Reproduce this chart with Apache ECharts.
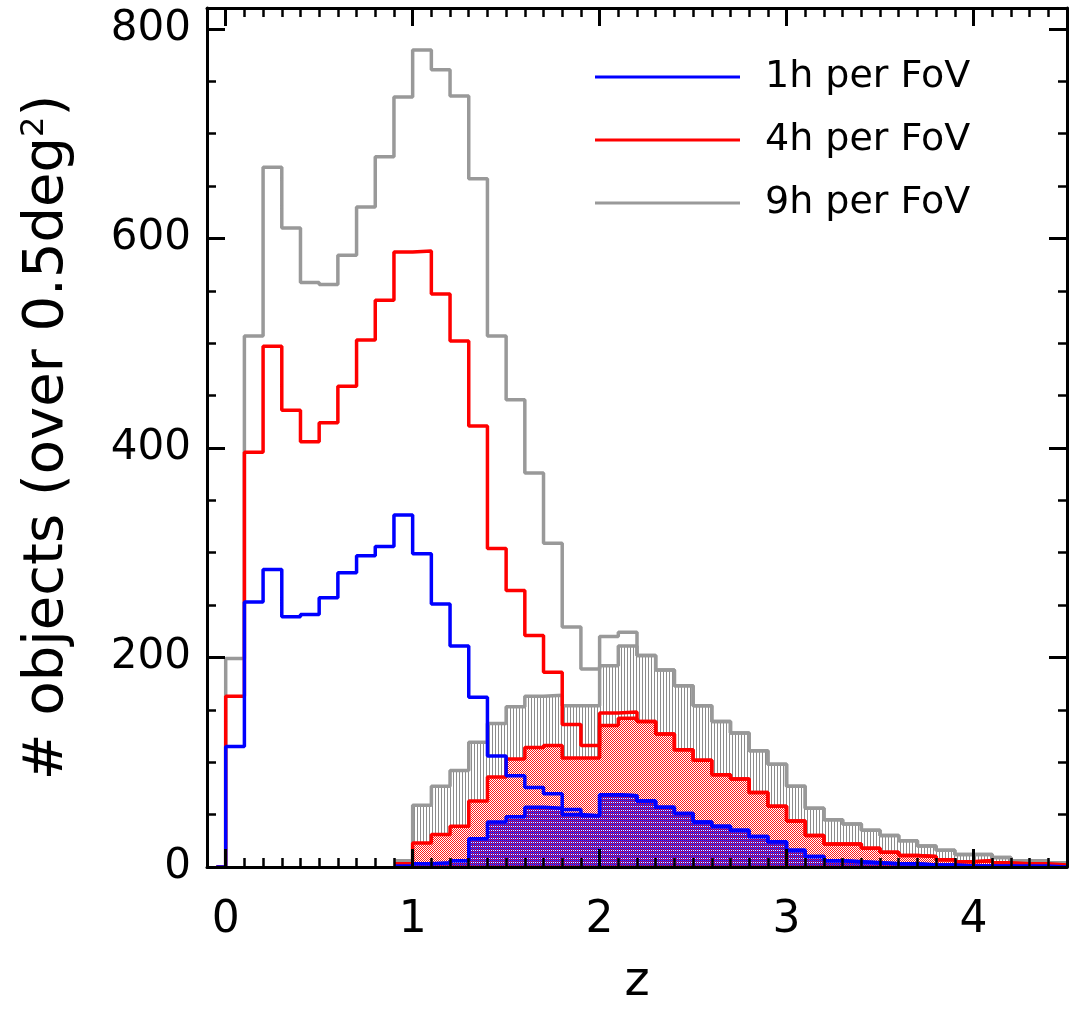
<!DOCTYPE html>
<html>
<head>
<meta charset="utf-8">
<script src="https://cdn.jsdelivr.net/npm/echarts@6/dist/echarts.min.js"></script>
<style>
  html, body { margin: 0; padding: 0; background: #fff; }
  #chart { width: 1070px; height: 1012px; }
</style>
</head>
<body>
<div id="chart"></div>
<script>
// histogram bins: width 0.1 in z, first bin starts at z = 0
const binStart = 0;
const binWidth = 0.1;
const seriesNames = ['1h per FoV', '4h per FoV', '9h per FoV'];

// total counts per bin (outlines)
const counts1h = [115, 253, 284, 239, 241, 257, 281, 297, 306, 336,
  299, 251, 211, 162, 106, 87, 76, 70, 55, 49,
  69, 68, 63, 57, 51, 43, 39, 35, 29, 24,
  16, 10, 6, 5, 4, 3, 3, 2, 2, 1,
  1, 1, 1, 1, 0];
const counts4h = [163, 396, 497, 436, 406, 424, 459, 503, 541, 587,
  588, 547, 502, 421, 304, 264, 221, 186, 136, 116,
  147, 148, 139, 127, 112, 102, 88, 84, 71, 58,
  44, 30, 22, 22, 18, 14, 11, 10, 7, 5,
  6, 4, 3, 3, 2];
const counts9h = [199, 507, 668, 610, 558, 556, 584, 630, 678, 735,
  780, 761, 736, 657, 507, 446, 376, 309, 229, 189,
  220, 224, 202, 188, 173, 154, 139, 128, 111, 98,
  77, 56, 45, 41, 35, 30, 25, 20, 16, 12,
  12, 9, 6, 6, 4];

// high-z subsample per bin (hatched), null = not plotted
const hiz1h = [null, null, null, null, null, null, null, null, null, 1,
  3, 4, 6, 27, 43, 48, 57, 56, 50, 49,
  69, 68, 63, 57, 51, 43, 39, 35, 29, 24,
  16, 10, 6, 5, 4, 3, 3, 2, 2, 1,
  1, 1, 1, 1, 0];
const hiz4h = [null, null, null, null, null, null, null, null, null, 3,
  23, 31, 39, 63, 86, 103, 114, 116, 104, 104,
  135, 142, 139, 127, 112, 102, 88, 84, 71, 58,
  44, 30, 22, 22, 18, 14, 11, 10, 7, 5,
  6, 4, 3, 3, 2];
const hiz9h = [null, null, null, null, null, null, null, null, null, 6,
  59, 77, 92, 119, 137, 153, 163, 164, 154, 154,
  192, 211, 202, 188, 173, 154, 139, 128, 111, 98,
  77, 56, 45, 41, 35, 30, 25, 20, 16, 12,
  12, 9, 6, 6, 4];

const xTicks = [0, 1, 2, 3, 4];
const yTicks = [0, 200, 400, 600, 800];

const FONT = 'DejaVu Sans';
const colors = ['#0000ff', '#ff0000', '#999999'];
const LW = 3.5;

// turn bin counts into step points (left edge of each bin + closing edge)
function stepData(counts, leadIn) {
  const pts = [];
  if (leadIn) pts.push([binStart - binWidth / 2, 0]);
  let last = null;
  counts.forEach((c, k) => {
    if (c === null) return;
    pts.push([+(binStart + k * binWidth).toFixed(2), c]);
    last = c;
  });
  pts.push([+(binStart + counts.length * binWidth).toFixed(2), last]);
  return pts;
}

function makePattern(size, paint) {
  const c = document.createElement('canvas');
  c.width = size;
  c.height = size;
  const ctx = c.getContext('2d');
  ctx.fillStyle = '#fff';
  ctx.fillRect(0, 0, size, size);
  paint(ctx);
  return { image: c, repeat: 'repeat' };
}

// vertical gray lines
const grayHatch = makePattern(3, ctx => {
  ctx.fillStyle = '#8c8c8c';
  ctx.fillRect(0, 0, 1, 3);
});
// fine red / white diagonal hatch
const redHatch = makePattern(4, ctx => {
  ctx.fillStyle = '#ff1a1a';
  for (let x = 0; x < 4; x++) {
    for (let y = 0; y < 4; y++) {
      if ((x + y) % 2 === 0) ctx.fillRect(x, y, 1, 1);
    }
  }
});
// blue cross hatch over the red one
const blueHatch = makePattern(4, ctx => {
  for (let x = 0; x < 4; x++) {
    for (let y = 0; y < 4; y++) {
      if ((x + y) % 2 === 0) { ctx.fillStyle = '#1a00e6'; ctx.fillRect(x, y, 1, 1); }
      else if (x % 2 === 0) { ctx.fillStyle = '#ff2020'; ctx.fillRect(x, y, 1, 1); }
      else if (y === 0) { ctx.fillStyle = '#6a3cd8'; ctx.fillRect(x, y, 1, 1); }
    }
  }
});

const chart = echarts.init(document.getElementById('chart'), null, { renderer: 'canvas' });

const xRange = { min: -0.1, max: 4.5 };
const yRange = { min: 0, max: 820 };

function xAxisDef(pos, major) {
  return {
    type: 'value', position: pos, ...xRange, z: 10,
    interval: major ? undefined : binWidth,
    axisLine: { show: !major, onZero: false, lineStyle: { color: '#000', width: 3 } },
    axisTick: major
      ? { show: true, inside: true, length: 18, customValues: xTicks, lineStyle: { color: '#000', width: 3 } }
      : { show: true, inside: true, length: 9, lineStyle: { color: '#000', width: 2.5 } },
    axisLabel: (major && pos === 'bottom')
      ? { show: true, customValues: xTicks, margin: 32, color: '#000', fontSize: 44, fontFamily: FONT }
      : { show: false },
    splitLine: { show: false },
    name: (major && pos === 'bottom') ? 'z' : '',
    nameLocation: 'middle', nameGap: 92,
    nameTextStyle: { color: '#000', fontSize: 48, fontFamily: FONT }
  };
}

function yAxisDef(pos, major) {
  return {
    type: 'value', position: pos, ...yRange, z: 10,
    interval: major ? undefined : 50,
    axisLine: { show: !major, onZero: false, lineStyle: { color: '#000', width: 3 } },
    axisTick: major
      ? { show: true, inside: true, length: 18, customValues: yTicks, lineStyle: { color: '#000', width: 3 } }
      : { show: true, inside: true, length: 9, lineStyle: { color: '#000', width: 2.5 } },
    axisLabel: (major && pos === 'left')
      ? { show: true, customValues: yTicks, margin: 16, color: '#000', fontSize: 42, fontFamily: FONT }
      : { show: false },
    splitLine: { show: false },
    name: (major && pos === 'left') ? '{a|# objects (over 0.5deg}{s|2}{a|)}' : '',
    nameLocation: 'middle', nameRotate: 90, nameGap: 132,
    nameTextStyle: {
      color: '#000', fontSize: 56, fontFamily: FONT,
      rich: {
        a: { fontSize: 56, fontFamily: FONT, color: '#000' },
        s: { fontSize: 32, fontFamily: FONT, color: '#000', verticalAlign: 'top' }
      }
    }
  };
}

function outline(name, counts, color, z) {
  return {
    name, type: 'line', step: 'end', symbol: 'none', z,
    xAxisIndex: 0, yAxisIndex: 0,
    data: stepData(counts, true),
    lineStyle: { color, width: LW },
    itemStyle: { color }
  };
}

function hatched(name, counts, color, pattern, z) {
  return {
    name, type: 'line', step: 'end', symbol: 'none', z,
    xAxisIndex: 0, yAxisIndex: 0,
    data: stepData(counts, false),
    lineStyle: { color, width: LW },
    itemStyle: { color },
    areaStyle: { color: pattern, opacity: 1 }
  };
}

const option = {
  animation: false,
  backgroundColor: '#fff',
  grid: { left: 207, right: 3, top: 8, bottom: 144 },
  legend: {
    data: seriesNames,
    orient: 'vertical',
    left: 590, top: 53,
    icon: 'rect', itemWidth: 145, itemHeight: 3, itemGap: 25,
    textStyle: { color: '#000', fontSize: 38, fontFamily: FONT, padding: [0, 0, 0, 20] }
  },
  xAxis: [
    xAxisDef('bottom', false),
    xAxisDef('bottom', true),
    xAxisDef('top', false),
    xAxisDef('top', true)
  ],
  yAxis: [
    yAxisDef('left', false),
    yAxisDef('left', true),
    yAxisDef('right', false),
    yAxisDef('right', true)
  ],
  series: [
    hatched('high-z 9h', hiz9h, colors[2], grayHatch, 2),
    hatched('high-z 4h', hiz4h, colors[1], redHatch, 3),
    hatched('high-z 1h', hiz1h, colors[0], blueHatch, 4),
    outline(seriesNames[2], counts9h, colors[2], 5),
    outline(seriesNames[1], counts4h, colors[1], 6),
    outline(seriesNames[0], counts1h, colors[0], 7)
  ]
};

chart.setOption(option);
</script>
</body>
</html>
